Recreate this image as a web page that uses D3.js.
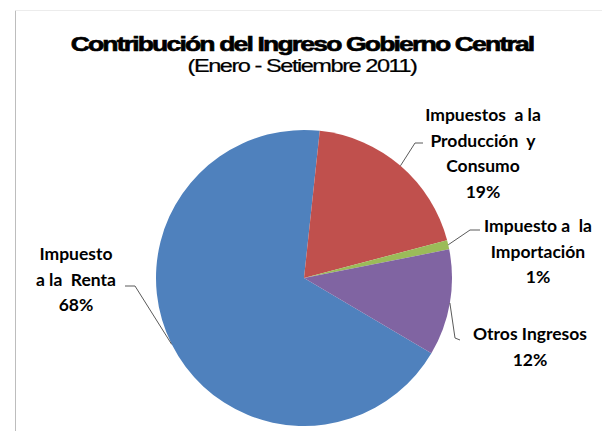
<!DOCTYPE html>
<html>
<head>
<meta charset="utf-8">
<script src="https://cdn.jsdelivr.net/npm/d3@7"></script>
<style>
  html, body { margin: 0; padding: 0; background: #fff; }
  svg { display: block; }
</style>
</head>
<body>
<div id="chart"></div>
<script>
// Data (percent of total)
var categories = ['Impuesto a la Renta', 'Impuestos a la Producción y Consumo', 'Impuesto a la Importación', 'Otros Ingresos'];
var values = [68.2, 19.2, 1.0, 11.6];
var labelLines = [
    ['Impuesto', 'a la  Renta'],
    ['Impuestos  a la', 'Producción  y', 'Consumo'],
    ['Impuesto a  la', 'Importación'],
    ['Otros Ingresos']
];
var colors = ['#4f81bd', '#c0504d', '#9bbb59', '#8064a2'];

// Layout
var width = 602, height = 431;
var cx = 304, cy = 278, radius = 148;
var firstSliceAngle = 120.6; // degrees, clockwise from 12 o'clock

// label block centre x, first baseline y, and leader elbow
var labelLayout = [
    {x: 76,  y: 260, elbow: [[125, 286], [135, 286]]},
    {x: 483, y: 121, elbow: [[423, 143], [415, 143]]},
    {x: 538, y: 232, elbow: [[480, 230], [470, 230]]},
    {x: 530, y: 340, elbow: [[460, 340], [455, 338]]}
];
var lineHeight = 25.5;

var svg = d3.select('#chart').append('svg')
    .attr('width', width)
    .attr('height', height);

// chart area border (partly visible)
svg.append('line')
    .attr('x1', 15.5).attr('y1', 10.5).attr('x2', 15.5).attr('y2', height)
    .attr('stroke', '#bdbdbd').attr('stroke-width', 1);
svg.append('line')
    .attr('x1', 15.5).attr('y1', 10.5).attr('x2', width).attr('y2', 10.5)
    .attr('stroke', '#ececec').attr('stroke-width', 1);

// text squeezed/stretched horizontally to a given width (the original is a wide, tight face)
function fittedText(str, y, size, weight, spacing, targetWidth) {
    var gg = svg.append('g');
    var t = gg.append('text')
        .attr('x', 0).attr('y', 0)
        .attr('text-anchor', 'middle')
        .style('font-family', '"Liberation Sans", Arial, sans-serif')
        .style('font-weight', weight)
        .style('font-size', size + 'px')
        .style('letter-spacing', spacing + 'px')
        .text(str);
    var w = t.node().getComputedTextLength();
    gg.attr('transform', 'translate(302,' + y + ') scale(' + (targetWidth / w) + ',1)');
    return t;
}

fittedText('Contribución del Ingreso Gobierno Central', 51, 20, 'bold', -1.4, 463)
    .style('stroke', '#000').style('stroke-width', 0.6);
fittedText('(Enero - Setiembre 2011)', 72, 17.5, 'normal', -1.1, 229)
    .style('stroke', '#000').style('stroke-width', 0.2);

var pie = d3.pie()
    .sort(null)
    .value(function(d) { return d; })
    .startAngle(firstSliceAngle * Math.PI / 180)
    .endAngle(firstSliceAngle * Math.PI / 180 + 2 * Math.PI);

var arc = d3.arc().innerRadius(0).outerRadius(radius);

var arcs = pie(values);
var total = d3.sum(values);

var g = svg.append('g')
    .attr('transform', 'translate(' + cx + ',' + cy + ')');

g.selectAll('path.slice')
    .data(arcs)
  .enter().append('path')
    .attr('class', 'slice')
    .attr('d', arc)
    .attr('fill', function(d, i) { return colors[i]; })
    .attr('stroke', 'none');

// leader lines: from label elbow to mid point of slice edge
arcs.forEach(function(d, i) {
    var mid = (d.startAngle + d.endAngle) / 2;
    var ex = cx + radius * Math.sin(mid);
    var ey = cy - radius * Math.cos(mid);
    var pts = labelLayout[i].elbow.concat([[ex, ey]]);
    svg.append('path')
        .attr('d', d3.line()(pts))
        .attr('fill', 'none')
        .attr('stroke', '#5a5a5a')
        .attr('stroke-width', 1);
});

// labels
arcs.forEach(function(d, i) {
    var lines = labelLines[i].concat([Math.round(d.value / total * 100) + '%']);
    var t = svg.append('text')
        .attr('text-anchor', 'middle')
        .style('font-family', 'Lato, "Open Sans", sans-serif')
        .style('font-weight', 'bold')
        .style('font-size', '17.5px')
        .style('white-space', 'pre')
        .attr('fill', '#000');
    lines.forEach(function(s, j) {
        t.append('tspan')
            .attr('x', labelLayout[i].x)
            .attr('y', labelLayout[i].y + j * lineHeight)
            .text(s);
    });
});
</script>
</body>
</html>
